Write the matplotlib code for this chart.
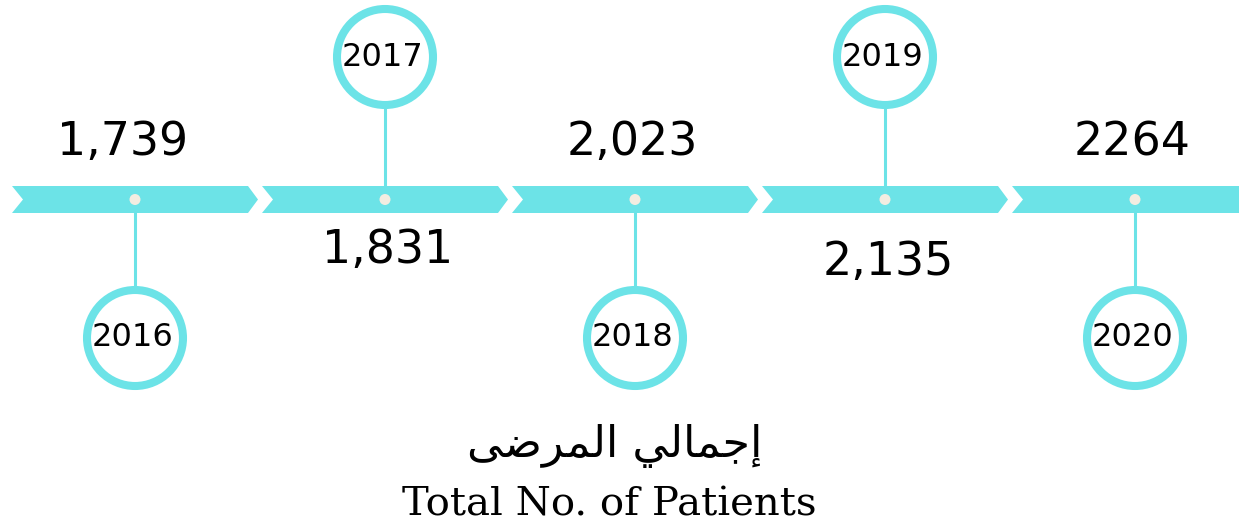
import matplotlib
matplotlib.use("Agg")
import matplotlib.pyplot as plt
from matplotlib.patches import Polygon, Circle

# data
years = ["2016", "2017", "2018", "2019", "2020"]
values = ["1,739", "1,831", "2,023", "2,135", "2264"]
side = ["down", "up", "down", "up", "down"]   # where the year bubble sits
title_ar = "إجمالي المرضى"
title_en = "Total No. of Patients"

# matplotlib has no Arabic shaping, so the title is typed in
# presentation forms, in visual (left-to-right) order
title_ar_visual = "\uFEF0\uFEBF\uFEAE\uFEE4\uFEDF\uFE8D \uFEF2\uFEDF\uFE8E\uFEE4\uFE9F\uFE87"

cyan = "#6ce3e7"
dot = "#f3ede1"

fig = plt.figure(figsize=(12.39, 5.28), dpi=100)
ax = fig.add_axes([0, 0, 1, 1])
ax.set_xlim(0, 1239)
ax.set_ylim(528, 0)
ax.axis("off")

step = 250
bar_top, bar_bot, bar_mid = 186, 213, 199.5
label_y = {"up": 143, "down": [250, 262]}
k = 0
for i, (yr, val, s) in enumerate(zip(years, values, side)):
    x0 = 12 + step * i
    cx = x0 + 123
    # chevron
    pts = [(x0, bar_top), (x0 + 236, bar_top), (x0 + 246, bar_mid),
           (x0 + 236, bar_bot), (x0, bar_bot), (x0 + 11, bar_mid)]
    ax.add_patch(Polygon(pts, closed=True, facecolor=cyan, edgecolor="none", zorder=2))

    # bubble with year
    cy = 338 if s == "down" else 57
    ax.plot([cx, cx], [bar_mid, cy], color=cyan, lw=2.2, zorder=1)
    ax.add_patch(Circle((cx, cy), 48, facecolor="white", edgecolor=cyan, lw=5.8, zorder=3))
    ax.text(cx - 2, cy, yr, ha="center", va="center", fontsize=23, zorder=4)
    ax.add_patch(Circle((cx, bar_mid), 5.5, facecolor=dot, edgecolor="none", zorder=4))

    # value label on the other side of the bar
    if s == "down":
        vy = label_y["up"]
        vx = cx - 12 if i == 0 else cx - 3
    else:
        vy = label_y["down"][k]
        k += 1
        vx = cx + 3
    ax.text(vx, vy, val, ha="center", va="center", fontsize=33)

ax.text(615, 446, title_ar_visual, ha="center", va="center", fontsize=32,
        family="DejaVu Sans")
ax.text(609, 505, title_en, ha="center", va="center", fontsize=29,
        family="DejaVu Serif")

fig.savefig("out.png", dpi=100, facecolor="white")
